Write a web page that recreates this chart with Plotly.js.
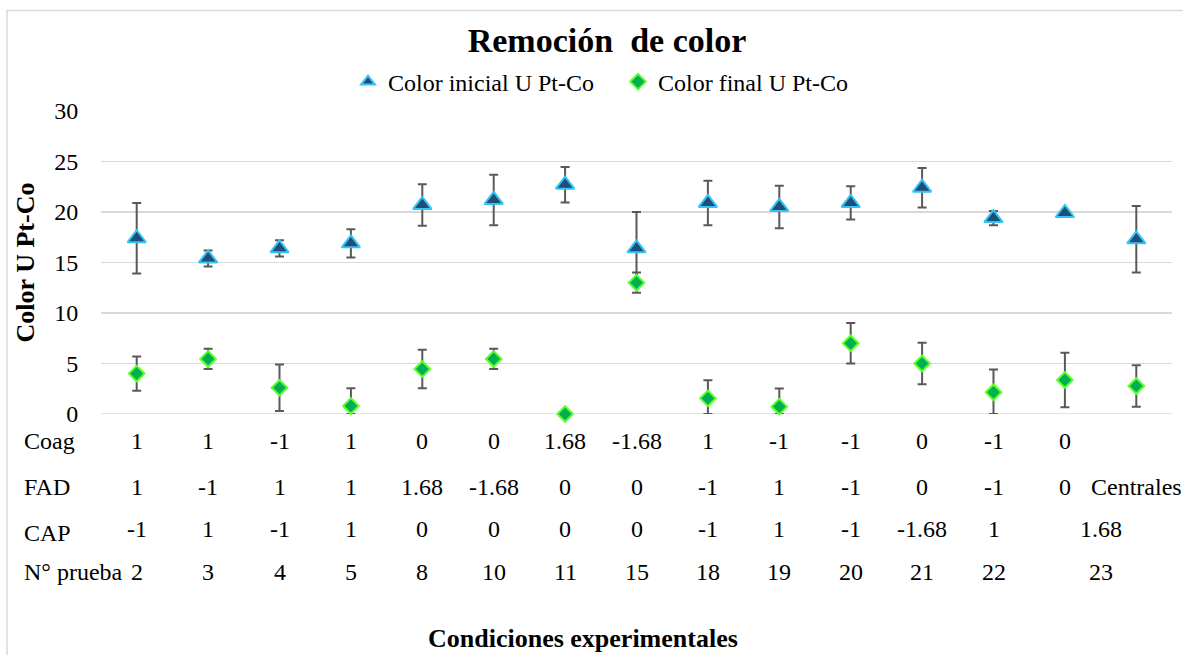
<!DOCTYPE html>
<html>
<head>
<meta charset="utf-8">
<script src="https://cdn.plot.ly/plotly-3.0.1.min.js"></script>
<style>
  html, body { margin: 0; padding: 0; background: #fff; }
  #chart { width: 1183px; height: 655px; }
</style>
</head>
<body>
<div id="chart"></div>
<script>
// ---- data ----
const categories = ['2', '3', '4', '5', '8', '10', '11', '15', '18', '19', '20', '21', '22', '23 a', '23 b'];

const colorInicial    = [17.4, 15.4, 16.4, 16.9, 20.7, 21.2, 22.7, 16.4, 20.9, 20.5, 20.9, 22.4, 19.4, 19.9, 17.3];
const colorInicialErr = [3.5, 0.8, 0.8, 1.4, 2.05, 2.5, 1.75, 3.6, 2.2, 2.1, 1.65, 1.95, 0.7, 0.2, 3.3];

const colorFinal       = [4.0, 5.45, 2.6, 0.8, 4.45, 5.45, 0.0, 13.0, 1.55, 0.73, 7.0, 5.0, 2.15, 3.37, 2.77];
const colorFinalErr    = [1.7, 1.0, 2.3, 1.75, 1.9, 1.0, 0.0, 1.0, 1.8, 1.8, 2.0, 2.05, 2.25, 2.7, 2.05];
// lower bars as visible (cut at the axis floor of 0)
const colorFinalErrLow = [1.7, 1.0, 2.3, 0.8, 1.9, 1.0, 0.0, 1.0, 1.55, 0.73, 2.0, 2.05, 2.15, 2.7, 2.05];

// table under the axis
const rowNames = ['Coag', 'FAD', 'CAP', 'N° prueba'];
const rowCoag    = ['1', '1', '-1', '1', '0', '0', '1.68', '-1.68', '1', '-1', '-1', '0', '-1', '0', ''];
const rowFAD     = ['1', '-1', '1', '1', '1.68', '-1.68', '0', '0', '-1', '1', '-1', '0', '-1', '0', 'Centrales'];
const rowCAP     = ['-1', '1', '-1', '1', '0', '0', '0', '0', '-1', '1', '-1', '-1.68', '1', '1.68'];      // last spans the two central points
const rowPrueba  = ['2', '3', '4', '5', '8', '10', '11', '15', '18', '19', '20', '21', '22', '23'];         // last spans the two central points

// ---- layout helpers (pixels -> paper) ----
const W = 1183, H = 655;
const M = { l: 101, r: 11, t: 111, b: 241 };
const plotW = W - M.l - M.r, plotH = H - M.t - M.b;
const px2x = px => (px - M.l) / plotW;
const py2y = py => (H - M.b - py) / plotH;

const FONT = '"Liberation Serif", serif';
const errColor = '#595959';

const traces = [
  {
    type: 'scatter', mode: 'markers', name: 'Color inicial U Pt-Co',
    x: categories, y: colorInicial,
    cliponaxis: false,
    marker: { symbol: 'triangle-up', size: 16, color: '#1F4E79', line: { color: '#33C4F4', width: 2 } },
    error_y: { type: 'data', array: colorInicialErr, visible: true, color: errColor, thickness: 2, width: 4.5 }
  },
  {
    type: 'scatter', mode: 'markers', name: 'Color final U Pt-Co',
    x: categories, y: colorFinal,
    cliponaxis: false,
    marker: { symbol: 'diamond', size: 12, color: '#00B050', line: { color: '#5CFF2E', width: 2 } },
    error_y: { type: 'data', symmetric: false, array: colorFinalErr, arrayminus: colorFinalErrLow, visible: true, color: errColor, thickness: 2, width: 4.5 }
  }
];

const annotations = [];
const rowY = [441, 487, 529, 572];
const rowLabelY = [441, 487, 533, 572];
const rows = [rowCoag, rowFAD, rowCAP, rowPrueba];
rowNames.forEach((name, i) => {
  annotations.push({
    xref: 'paper', yref: 'paper', x: px2x(22), y: py2y(rowLabelY[i]),
    xanchor: 'left', yanchor: 'middle', text: name, showarrow: false,
    font: { family: FONT, size: 24, color: '#000' }
  });
});
rows.forEach((row, i) => {
  row.forEach((val, j) => {
    if (val === '') return;
    // a row shorter than the category list merges its last label over the last two columns
    const xi = (row.length < categories.length && j === row.length - 1) ? j + 0.5 : j;
    annotations.push({
      xref: 'x', yref: 'paper', x: xi, y: py2y(rowY[i]),
      xanchor: 'center', yanchor: 'middle', text: val, showarrow: false,
      font: { family: FONT, size: 24, color: '#000' }
    });
  });
});
// x axis title
annotations.push({
  xref: 'paper', yref: 'paper', x: px2x(583), y: py2y(638),
  xanchor: 'center', yanchor: 'middle', text: '<b>Condiciones experimentales</b>', showarrow: false,
  font: { family: FONT, size: 26, color: '#000' }
});

const layout = {
  width: W, height: H,
  margin: M,
  paper_bgcolor: '#fff', plot_bgcolor: '#fff',
  font: { family: FONT, size: 24, color: '#000' },
  title: {
    text: '<b>Remoción\u00a0 de color</b>',
    xref: 'container', yref: 'container', x: 607 / W, y: 1 - 40 / H,
    xanchor: 'center', yanchor: 'middle',
    font: { family: FONT, size: 34, color: '#000' }
  },
  showlegend: true,
  legend: {
    orientation: 'h', xref: 'container', yref: 'container',
    x: 348 / W, y: 1 - 82 / H, xanchor: 'left', yanchor: 'middle',
    font: { family: FONT, size: 24, color: '#000' },
    itemsizing: 'constant', entrywidth: 225, bgcolor: 'rgba(0,0,0,0)'
  },
  xaxis: {
    type: 'category', range: [-0.5, 14.5],
    showticklabels: false, ticks: '', showgrid: false, zeroline: false, showline: false,
    fixedrange: true
  },
  yaxis: {
    range: [0, 30], dtick: 5, tick0: 0,
    showgrid: true, gridcolor: '#D9D9D9', gridwidth: 1.5,
    zeroline: false, showline: false,
    ticks: 'outside', ticklen: 17, tickcolor: 'rgba(0,0,0,0)',
    tickfont: { family: FONT, size: 24, color: '#000' },
    title: { text: '<b>Color U Pt-Co</b>', standoff: 12, font: { family: FONT, size: 26, color: '#000' } },
    fixedrange: true
  },
  shapes: [
    { type: 'line', xref: 'paper', yref: 'y', x0: 0, x1: 1, y0: 0, y1: 0, line: { color: '#D9D9D9', width: 1.5 }, layer: 'below' },
    { type: 'rect', xref: 'paper', yref: 'paper', x0: px2x(7), x1: px2x(1192), y0: py2y(10.5), y1: py2y(680),
      line: { color: '#D9D9D9', width: 1.5 }, fillcolor: 'rgba(0,0,0,0)', layer: 'below' }
  ],
  annotations: annotations
};

Plotly.newPlot('chart', traces, layout, { displayModeBar: false, staticPlot: true });
</script>
</body>
</html>
